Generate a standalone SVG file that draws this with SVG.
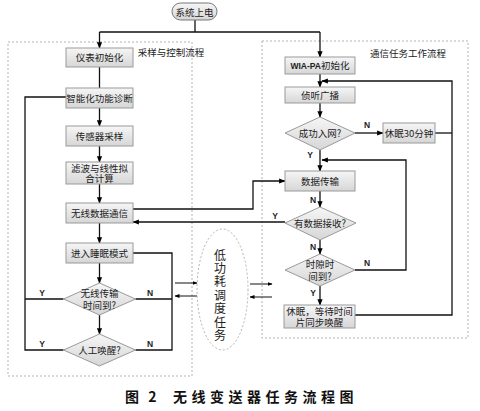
<svg xmlns="http://www.w3.org/2000/svg" width="480" height="411" viewBox="0 0 480 411">
<defs>
<linearGradient id="g" x1="0" y1="0" x2="0" y2="1"><stop offset="0" stop-color="#f6f6f6"/><stop offset="1" stop-color="#d6d6d6"/></linearGradient>
<marker id="a" viewBox="0 0 10 10" refX="9" refY="5" markerWidth="5" markerHeight="5" orient="auto-start-reverse"><path d="M0,1 L10,5 L0,9 z" fill="#000"/></marker>
</defs>
<style>
.b{fill:url(#g);stroke:#9a9a9a;stroke-width:1}
.t{font-family:"Noto Sans CJK SC","Noto Sans",sans-serif;font-size:9.5px;fill:#222;text-anchor:middle}
.l{font-family:"Liberation Sans",Arial,sans-serif;font-size:8.5px;font-weight:bold;fill:#222;text-anchor:middle}
.c{fill:none;stroke:#111;stroke-width:1.3}
.ar{marker-end:url(#a)}
.d{fill:none;stroke:#aaa;stroke-width:0.9;stroke-dasharray:2,2}
</style>
<rect width="480" height="411" fill="#fff"/>
<g id="containers">
<rect class="d" x="8" y="42" width="184" height="334"/>
<rect class="d" x="262" y="41" width="206" height="297"/>
<text class="t" x="171" y="56">采样与控制流程</text>
<text class="t" x="408" y="57">通信任务工作流程</text>
</g>
<g id="connectors">
<path class="c" d="M195,20 V32 M99.5,32 H320"/>
<path class="c ar" d="M99.5,32 V48"/>
<path class="c ar" d="M320,32 V57"/>
<path class="c" d="M99.5,67 V88"/>
<path class="c ar" d="M99.5,108 V126"/>
<path class="c ar" d="M99.5,146 V162"/>
<path class="c ar" d="M99.5,184 V203"/>
<path class="c ar" d="M99.5,223 V243"/>
<path class="c ar" d="M99.5,263 V283"/>
<path class="c ar" d="M99.5,315 V334"/>
<path class="c" d="M66,97 H25 V350 H63.5 M25,299 H63.5"/>
<path class="c" d="M133,253 H172 V350 H135.5 M172,299 H135.5"/>
<path class="c ar" d="M133,209 H253 V181 H285"/>
<path class="c ar" d="M285,222 H133"/>
<path class="c ar" d="M320,74 V87"/>
<path class="c ar" d="M320,103 V117"/>
<path class="c ar" d="M355,133 H383"/>
<path class="c" d="M435,133 H452"/>
<path class="c ar" d="M355,315 H452 V81 H322"/>
<path class="c ar" d="M320,150 V171"/>
<path class="c ar" d="M355,270 H406 V160 H322"/>
<path class="c ar" d="M320,191 V207"/>
<path class="c ar" d="M320,240 V254"/>
<path class="c ar" d="M320,286 V305"/>
<path class="c ar" style="stroke-width:1" d="M175,283 H197"/>
<path class="c ar" style="stroke-width:1" d="M197,296 H175"/>
<path class="c ar" style="stroke-width:1" d="M250,284 H272"/>
<path class="c ar" style="stroke-width:1" d="M272,297 H250"/>
<text class="l" x="42" y="296">Y</text>
<text class="l" x="150" y="296">N</text>
<text class="l" x="42" y="347">Y</text>
<text class="l" x="150" y="347">N</text>
<text class="l" x="367" y="128">N</text>
<text class="l" x="310" y="158">Y</text>
<text class="l" x="313" y="203">N</text>
<text class="l" x="275" y="219">Y</text>
<text class="l" x="313" y="250">N</text>
<text class="l" x="367" y="266">N</text>
<text class="l" x="313" y="296">Y</text>
</g>
<g id="start"><rect x="172" y="3" width="45" height="17" rx="8.5" fill="url(#g)" stroke="#777"/><text class="t" x="194.5" y="15.5">系统上电</text></g>
<g id="n1"><rect class="b" x="66" y="48" width="67" height="19"/><text class="t" x="99.5" y="61">仪表初始化</text></g>
<g id="n2"><rect class="b" x="66" y="88" width="67" height="20"/><text class="t" x="99.5" y="101.5">智能化功能诊断</text></g>
<g id="n3"><rect class="b" x="66" y="126" width="67" height="20"/><text class="t" x="99.5" y="139.5">传感器采样</text></g>
<g id="n4"><rect class="b" x="66" y="162" width="67" height="22"/><text class="t" x="99.5" y="172">滤波与线性拟<tspan x="99.5" dy="10">合计算</tspan></text></g>
<g id="n5"><rect class="b" x="66" y="203" width="67" height="20"/><text class="t" x="99.5" y="216.5">无线数据通信</text></g>
<g id="n6"><rect class="b" x="66" y="243" width="67" height="20"/><text class="t" x="99.5" y="256.5">进入睡眠模式</text></g>
<g id="d1"><path class="b" d="M99.5,283 L135.5,299 L99.5,315 L63.5,299 z"/><text class="t" x="99.5" y="297">无线传输<tspan x="99.5" dy="12">时间到?</tspan></text></g>
<g id="d2"><path class="b" d="M99.5,334 L135.5,350 L99.5,366 L63.5,350 z"/><text class="t" x="99.5" y="353.5">人工唤醒?</text></g>
<g id="lp"><ellipse cx="222.5" cy="289.5" rx="25.5" ry="60.5" fill="none" stroke="#aaa" stroke-width="0.9" stroke-dasharray="2,2"/>
<text x="220" y="249" writing-mode="vertical-rl" style="font-family:'Noto Sans CJK SC',sans-serif;font-size:12px;fill:#222;letter-spacing:1.4px">低功耗调度任务</text></g>
<g id="r1"><rect class="b" x="285" y="57" width="70" height="17"/><text class="t" x="320" y="69"><tspan style="font-family:'Liberation Sans',Arial,sans-serif;font-weight:bold;font-size:8.5px">WIA-PA</tspan>初始化</text></g>
<g id="r2"><rect class="b" x="285" y="87" width="70" height="16"/><text class="t" x="320" y="98.5">侦听广播</text></g>
<g id="r3"><path class="b" d="M320,117 L355,133 L320,150 L285,133 z"/><text class="t" x="320" y="136.5">成功入网?</text></g>
<g id="r4"><rect class="b" x="383" y="123" width="52" height="20"/><text class="t" x="409" y="136.5">休眠30分钟</text></g>
<g id="r5"><rect class="b" x="285" y="171" width="70" height="20"/><text class="t" x="320" y="184.5">数据传输</text></g>
<g id="r6"><path class="b" d="M320,207 L356,223 L320,240 L285,223 z"/><text class="t" x="320" y="226.5">有数据接收?</text></g>
<g id="r7"><path class="b" d="M320,254 L355,270 L320,286 L285,270 z"/><text class="t" x="320" y="268">时隙时<tspan x="320" dy="12">间到?</tspan></text></g>
<g id="r8"><rect class="b" x="284" y="305" width="71" height="23"/><text class="t" x="319.5" y="315">休眠，等待时间<tspan x="319.5" dy="11">片同步唤醒</tspan></text></g>
<g id="caption"><text x="125" y="402" style="font-family:'Noto Sans CJK SC',sans-serif;font-size:14px;font-weight:bold;fill:#111;letter-spacing:3px">图 2</text>
<text x="173" y="402" style="font-family:'Noto Sans CJK SC',sans-serif;font-size:14px;font-weight:bold;fill:#111;letter-spacing:4.5px">无线变送器任务流程图</text></g>
</svg>
